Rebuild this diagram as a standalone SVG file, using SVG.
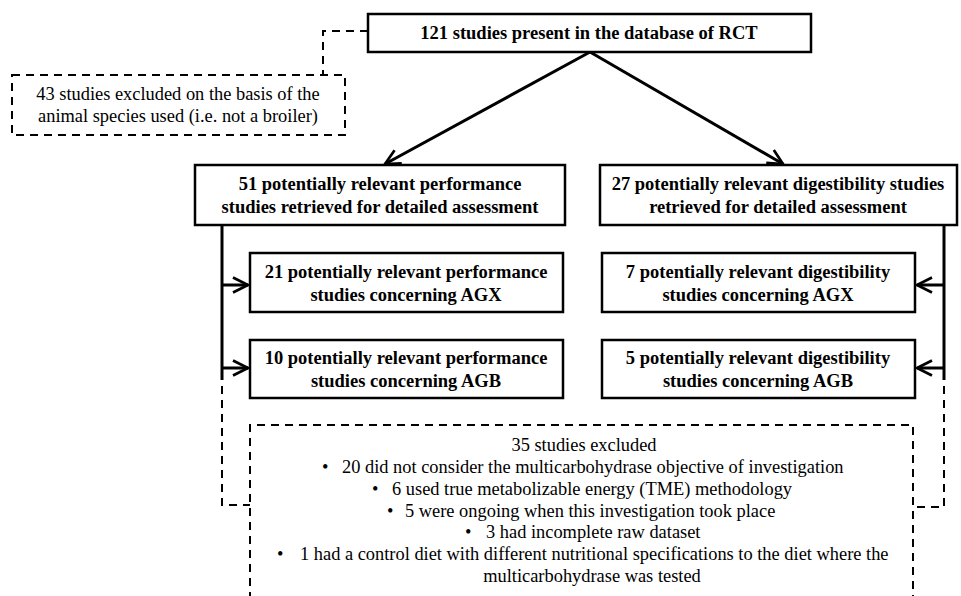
<svg xmlns="http://www.w3.org/2000/svg" width="961" height="596" viewBox="0 0 961 596">
<style>
.box{fill:#fff;stroke:#000;stroke-width:2.5}
.dbox{fill:none;stroke:#000;stroke-width:2;stroke-dasharray:8 6}
.b{font-family:"Liberation Serif",serif;font-weight:bold;font-size:18.5px;text-anchor:middle;fill:#000}
.r{font-family:"Liberation Serif",serif;font-size:18.4px;fill:#000}
.m{text-anchor:middle}
.ln{fill:none;stroke:#000;stroke-width:3}
.dl{fill:none;stroke:#000;stroke-width:2;stroke-dasharray:8 6}
</style>
<defs>
<marker id="ah" viewBox="0 0 12 12" refX="11" refY="6" markerWidth="6" markerHeight="6" orient="auto" markerUnits="strokeWidth">
<path d="M1,1 L11,6 L1,11" fill="none" stroke="#000" stroke-width="1.8"/>
</marker>
</defs>
<g id="connectors">
<path class="ln" d="M590,52 L385,164" marker-end="url(#ah)"/>
<path class="ln" d="M590,52 L783,164" marker-end="url(#ah)"/>
<path class="dl" d="M368,31 H323 V75"/>
<path class="ln" d="M222,225 V380"/>
<path class="ln" d="M222,285 H248" marker-end="url(#ah)"/>
<path class="ln" d="M222,368 H248" marker-end="url(#ah)"/>
<path class="dl" d="M222,386 V505 H250"/>
<path class="ln" d="M944,225 V380"/>
<path class="ln" d="M944,285 H917" marker-end="url(#ah)"/>
<path class="ln" d="M944,368 H917" marker-end="url(#ah)"/>
<path class="dl" d="M944,386 V507 H913"/>
</g>
<g id="n-top">
<rect class="box" x="368" y="14" width="443" height="38"/>
<text class="b" x="589" y="39">121 studies present in the database of RCT</text>
</g>
<g id="n-excl1">
<rect class="dbox" x="12" y="75" width="333" height="60"/>
<text class="r m" x="178" y="100">43 studies excluded on the basis of the</text>
<text class="r m" x="178" y="122">animal species used (i.e. not a broiler)</text>
</g>
<g id="n-perf">
<rect class="box" x="195" y="165" width="370" height="60"/>
<text class="b" x="380" y="190">51 potentially relevant performance</text>
<text class="b" x="380" y="213">studies retrieved for detailed assessment</text>
</g>
<g id="n-dig">
<rect class="box" x="600" y="165" width="357" height="60"/>
<text class="b" x="778" y="190">27 potentially relevant digestibility studies</text>
<text class="b" x="778" y="213">retrieved for detailed assessment</text>
</g>
<g id="n-perf-agx">
<rect class="box" x="250" y="253" width="313" height="59"/>
<text class="b" x="406" y="278">21 potentially relevant performance</text>
<text class="b" x="406" y="301">studies concerning AGX</text>
</g>
<g id="n-perf-agb">
<rect class="box" x="250" y="340" width="313" height="58"/>
<text class="b" x="406" y="364">10 potentially relevant performance</text>
<text class="b" x="406" y="387">studies concerning AGB</text>
</g>
<g id="n-dig-agx">
<rect class="box" x="602" y="253" width="313" height="59"/>
<text class="b" x="758" y="278">7 potentially relevant digestibility</text>
<text class="b" x="758" y="301">studies concerning AGX</text>
</g>
<g id="n-dig-agb">
<rect class="box" x="602" y="340" width="313" height="58"/>
<text class="b" x="758" y="364">5 potentially relevant digestibility</text>
<text class="b" x="758" y="387">studies concerning AGB</text>
</g>
<g id="n-excl2">
<path class="dbox" d="M250,600 V425 H913 V600"/>
<text class="r m" x="584" y="451">35 studies excluded</text>
<text class="r" x="322" y="473">•</text><text class="r" x="342" y="473">20 did not consider the multicarbohydrase objective of investigation</text>
<text class="r" x="372" y="495">•</text><text class="r" x="392" y="495">6 used true metabolizable energy (TME) methodology</text>
<text class="r" x="387" y="517">•</text><text class="r" x="405" y="517">5 were ongoing when this investigation took place</text>
<text class="r" x="465" y="538">•</text><text class="r" x="486" y="538">3 had incomplete raw dataset</text>
<text class="r" x="277" y="560">•</text><text class="r" x="300" y="560">1 had a control diet with different nutritional specifications to the diet where the</text>
<text class="r m" x="592" y="582">multicarbohydrase was tested</text>
</g>
</svg>
